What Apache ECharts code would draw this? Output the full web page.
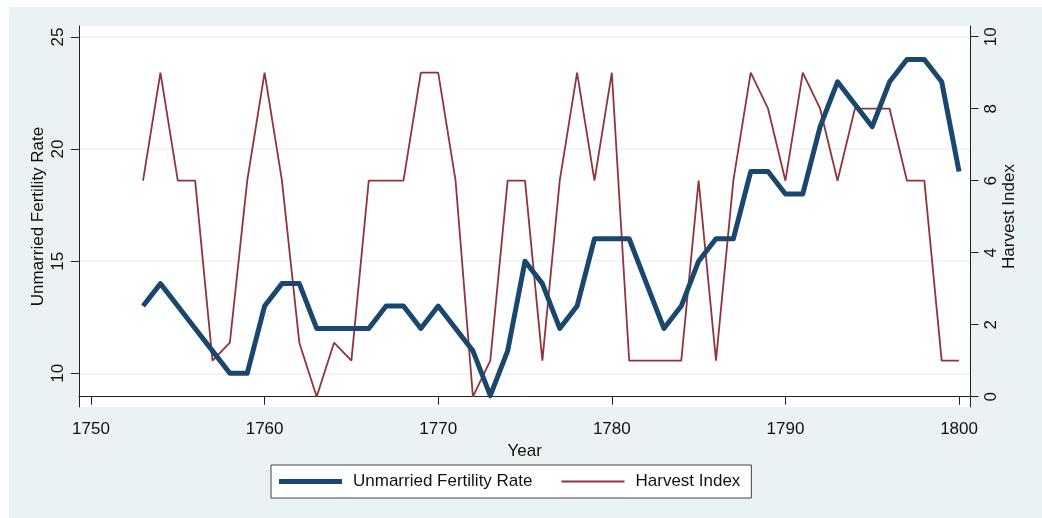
<!DOCTYPE html>
<html lang="en">
  <head>
    <meta charset="UTF-8" />
    <title>Unmarried Fertility Rate and Harvest Index</title>
    <script src="https://cdn.jsdelivr.net/npm/echarts@6/dist/echarts.min.js"></script>
    <style>
      html, body { margin: 0; padding: 0; background: #fff; }
    </style>
  </head>
  <body>
    <div id="chart" style="width: 1042px; height: 518px"></div>
  </body>
  <script>
    // data
    const years = [
      1753, 1754, 1755, 1756, 1757, 1758, 1759,
      1760, 1761, 1762, 1763, 1764, 1765, 1766, 1767, 1768, 1769,
      1770, 1771, 1772, 1773, 1774, 1775, 1776, 1777, 1778, 1779,
      1780, 1781, 1782, 1783, 1784, 1785, 1786, 1787, 1788, 1789,
      1790, 1791, 1792, 1793, 1794, 1795, 1796, 1797, 1798, 1799,
      1800
    ]
    const fertility = [
      13, 14, 13, 12, 11, 10, 10,
      13, 14, 14, 12, 12, 12, 12, 13, 13, 12,
      13, 12, 11, 9, 11, 15, 14, 12, 13, 16,
      16, 16, 14, 12, 13, 15, 16, 16, 19, 19,
      18, 18, 21, 23, 22, 21, 23, 24, 24, 23,
      19
    ]
    const harvest = [
      6, 9, 6, 6, 1, 1.5, 6,
      9, 6, 1.5, 0, 1.5, 1, 6, 6, 6, 9,
      9, 6, 0, 1, 6, 6, 1, 6, 9, 6,
      9, 1, 1, 1, 1, 6, 1, 6, 9, 8,
      6, 9, 8, 6, 8, 8, 8, 6, 6, 1,
      1
    ]
    const xTicks = [1750, 1760, 1770, 1780, 1790, 1800]
    const leftTicks = [10, 15, 20, 25]
    const rightTicks = [0, 2, 4, 6, 8, 10]

    const chart = echarts.init(document.getElementById('chart'))
    const font = 'Liberation Sans, Arial, sans-serif'
    const axisColor = '#222'
    const blue = '#1a476f'
    const red = '#90353b'

    const option = {
      backgroundColor: '#fff',
      animation: false,
      textStyle: { fontFamily: font },
      graphic: [
        {
          type: 'rect',
          z: -10,
          silent: true,
          shape: { x: 9, y: 7, width: 1033, height: 511 },
          style: { fill: '#eaf2f3' }
        }
      ],
      grid: {
        left: 79,
        right: 71.5,
        top: 26,
        bottom: 111,
        show: true,
        backgroundColor: '#fff',
        borderWidth: 0
      },
      legend: {
        left: 271,
        top: 465,
        width: 480,
        padding: [8, 11, 8, 8],
        itemGap: 29,
        itemWidth: 63,
        itemHeight: 10,
        borderColor: '#444',
        borderWidth: 1,
        backgroundColor: '#fff',
        textStyle: { fontSize: 17, color: '#111', padding: [0, 0, 0, 6] },
        data: [
          { name: 'Unmarried Fertility Rate', icon: 'path://M0 0H63V5H0Z' },
          { name: 'Harvest Index', icon: 'path://M0 0H63V2H0Z' }
        ]
      },
      xAxis: {
        type: 'value',
        min: 1749.31,
        max: 1800.66,
        name: 'Year',
        nameLocation: 'middle',
        nameGap: 29,
        nameTextStyle: { fontSize: 17, color: '#111' },
        axisLine: { show: true, lineStyle: { color: axisColor, width: 1 } },
        axisTick: { show: true, length: 8, customValues: xTicks, lineStyle: { color: axisColor } },
        axisLabel: {
          fontSize: 17,
          color: '#111',
          margin: 14,
          customValues: xTicks,
          formatter: v => String(v)
        },
        splitLine: { show: false }
      },
      yAxis: [
        {
          type: 'value',
          position: 'left',
          min: 8.497,
          max: 25.49,
          name: 'Unmarried Fertility Rate',
          nameLocation: 'middle',
          nameGap: 32,
          nameMoveOverlap: false,
          nameTextStyle: { fontSize: 17, color: '#111' },
          axisLine: { show: true, lineStyle: { color: axisColor, width: 1 } },
          axisTick: { show: true, length: 8, customValues: leftTicks, lineStyle: { color: axisColor } },
          axisLabel: { fontSize: 17, color: '#111', rotate: 90, margin: 12, customValues: leftTicks },
          splitLine: { show: true, lineStyle: { color: '#eaf2f3', width: 1.5 } }
        },
        {
          type: 'value',
          position: 'right',
          min: -0.286,
          max: 10.297,
          name: 'Harvest Index',
          nameLocation: 'middle',
          nameGap: 30,
          nameMoveOverlap: false,
          nameTextStyle: { fontSize: 17, color: '#111' },
          axisLine: { show: true, lineStyle: { color: axisColor, width: 1 } },
          axisTick: { show: true, length: 8, customValues: rightTicks, lineStyle: { color: axisColor } },
          axisLabel: { fontSize: 17, color: '#111', rotate: 90, margin: 12, customValues: rightTicks },
          splitLine: { show: false }
        }
      ],
      series: [
        {
          name: 'Unmarried Fertility Rate',
          type: 'line',
          yAxisIndex: 0,
          symbol: 'none',
          color: blue,
          itemStyle: { color: blue },
          lineStyle: { color: blue, width: 5, join: 'round' },
          data: years.map((y, i) => [y, fertility[i]]),
          z: 3
        },
        {
          name: 'Harvest Index',
          type: 'line',
          yAxisIndex: 1,
          symbol: 'none',
          color: red,
          itemStyle: { color: red },
          lineStyle: { color: red, width: 1.8 },
          data: years.map((y, i) => [y, harvest[i]]),
          z: 2
        }
      ]
    }
    chart.setOption(option)
  </script>
</html>
